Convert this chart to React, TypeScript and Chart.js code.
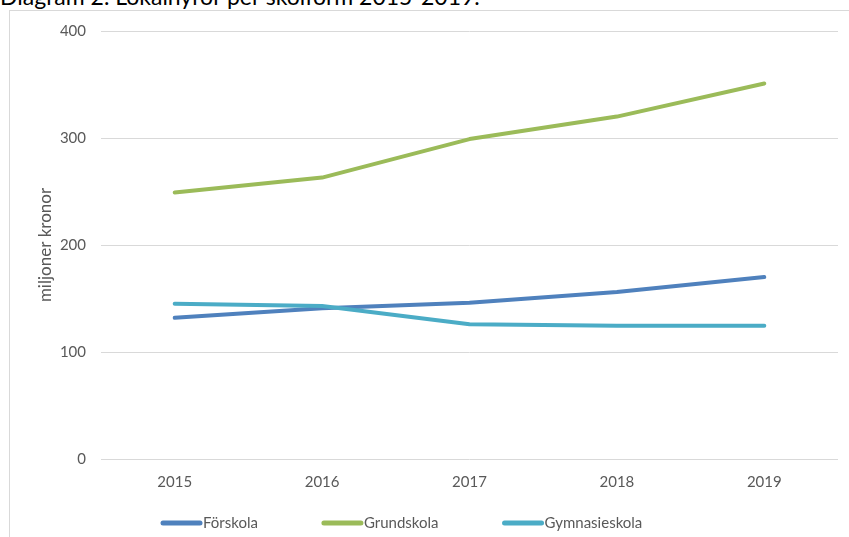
import React, { useEffect, useRef } from "react";
import { Chart, registerables } from "chart.js";

Chart.register(...registerables);

const categories = ["2015", "2016", "2017", "2018", "2019"];
const forskola = [132, 141, 146, 156, 170];
const grundskola = [249, 263, 299, 320, 351];
const gymnasieskola = [145, 143, 126, 124.5, 124.5];
const seriesNames = ["Förskola", "Grundskola", "Gymnasieskola"];
const seriesColors = ["#4F81BD", "#9BBB59", "#4BACC6"];
const yTicks = [0, 100, 200, 300, 400];

const FONT = "Lato, 'Open Sans', sans-serif";

const legendPlugin = {
  id: "customLegend",
  afterDraw(chart: any) {
    const { ctx, chartArea } = chart;
    ctx.save();
    ctx.font = `15px ${FONT}`;
    ctx.textBaseline = "middle";
    ctx.textAlign = "left";
    let x = chartArea.left + 60;
    const y = 523;
    chart.data.datasets.forEach((ds: any) => {
      ctx.strokeStyle = ds.borderColor;
      ctx.lineWidth = 5;
      ctx.lineCap = "round";
      ctx.beginPath();
      ctx.moveTo(x + 2, y);
      ctx.lineTo(x + 39, y);
      ctx.stroke();
      ctx.fillStyle = "#595959";
      ctx.fillText(ds.label, x + 42, y);
      x += 42 + ctx.measureText(ds.label).width + 64;
    });
    ctx.restore();
  },
};

export default function App() {
  const ref = useRef<HTMLCanvasElement | null>(null);

  useEffect(() => {
    if (!ref.current) return;
    const values = [forskola, grundskola, gymnasieskola];
    const chart = new Chart(ref.current, {
      type: "line",
      data: {
        labels: categories,
        datasets: values.map((v, i) => ({
          label: seriesNames[i],
          data: v,
          borderColor: seriesColors[i],
          backgroundColor: seriesColors[i],
          borderWidth: 4,
          borderCapStyle: "round",
          borderJoinStyle: "round",
          pointRadius: 0,
          pointHoverRadius: 0,
          tension: 0,
          fill: false,
          order: 3 - i,
        })),
      },
      options: {
        animation: false,
        responsive: true,
        maintainAspectRatio: false,
        layout: { padding: { top: 31, right: 11, bottom: 0, left: 0 } },
        plugins: {
          legend: { display: false },
          tooltip: { enabled: false },
          title: { display: false },
        },
        scales: {
          x: {
            offset: true,
            grid: { display: false, drawTicks: false },
            border: { display: false },
            ticks: {
              color: "#595959",
              font: { family: FONT, size: 15 },
              padding: 14,
              maxRotation: 0,
            },
            afterFit(scale: any) {
              scale.height = 78;
            },
          },
          y: {
            min: 0,
            max: 400,
            afterBuildTicks(scale: any) {
              scale.ticks = yTicks.map((v) => ({ value: v }));
            },
            grid: { color: "#d9d9d9", lineWidth: 1, drawTicks: false },
            border: { display: false },
            ticks: {
              color: "#595959",
              font: { family: FONT, size: 15 },
              padding: 15,
            },
            title: {
              display: true,
              text: "miljoner kronor",
              color: "#595959",
              font: { family: FONT, size: 17 },
              padding: { top: 35, bottom: 0 },
            },
            afterFit(scale: any) {
              scale.width = 101;
            },
          },
        },
      },
      plugins: [legendPlugin],
    });
    return () => chart.destroy();
  }, []);

  return (
    <div
      style={{
        position: "fixed",
        left: 0,
        top: 0,
        width: 849,
        height: 537,
        overflow: "hidden",
        background: "#ffffff",
      }}
    >
      <div
        style={{
          position: "absolute",
          left: 0,
          top: -15,
          fontFamily: FONT,
          fontSize: 23,
          lineHeight: "23px",
          color: "#000000",
          whiteSpace: "nowrap",
        }}
      >
        Diagram 2. Lokalhyror per skolform 2015-2019.
      </div>
      <div
        style={{
          position: "absolute",
          left: 9,
          top: 10,
          width: 1000,
          height: 700,
          border: "1px solid #d9d9d9",
          boxSizing: "border-box",
        }}
      />
      <div style={{ position: "absolute", left: 0, top: 0, width: 849, height: 537 }}>
        <canvas ref={ref} />
      </div>
    </div>
  );
}
